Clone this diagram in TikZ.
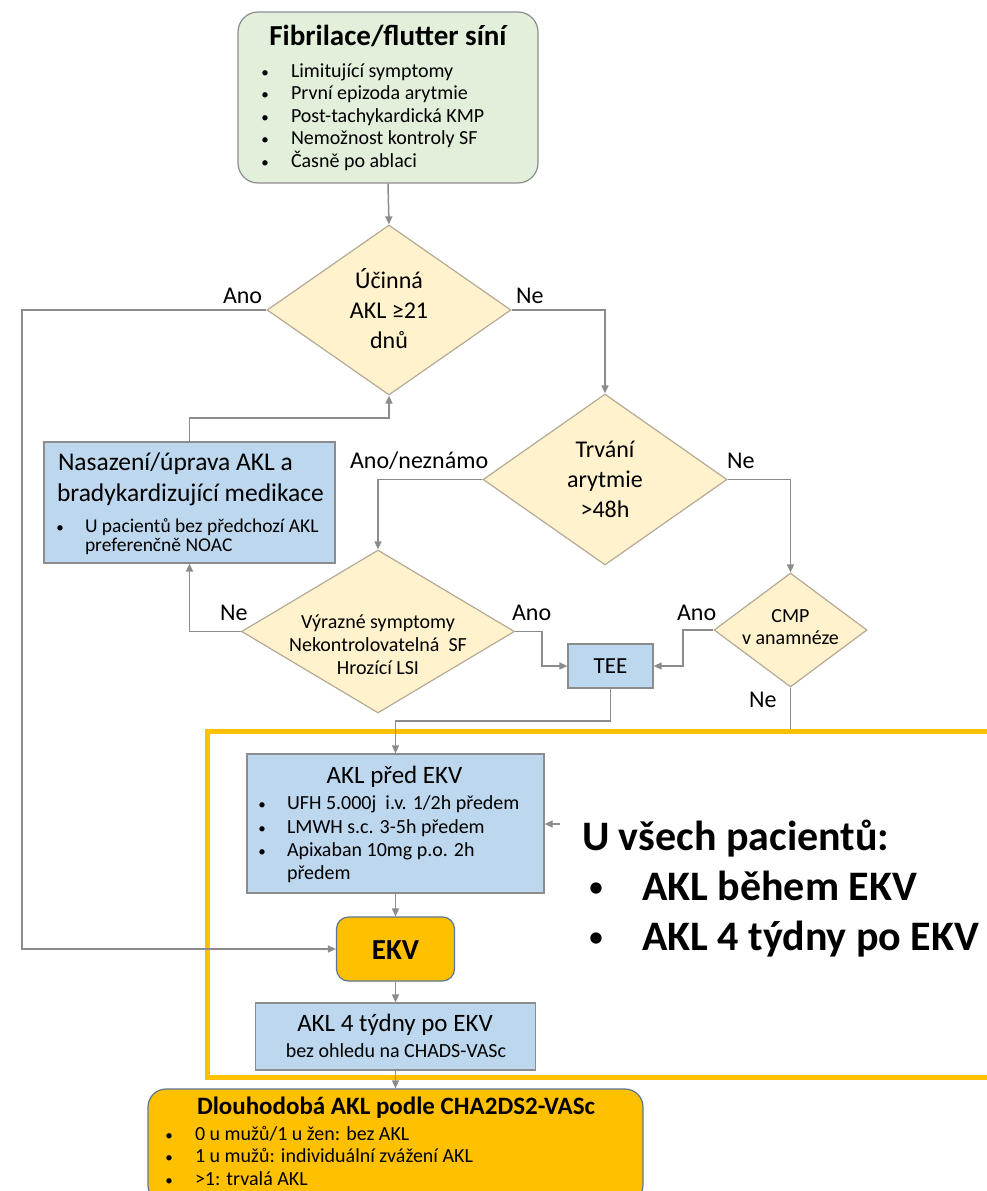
\documentclass[tikz,border=0pt]{standalone}
\usepackage{fontspec}
\setmainfont{Carlito}
\usetikzlibrary{shapes.geometric,arrows.meta}
\definecolor{gfill}{HTML}{E2EFDA}
\definecolor{bfill}{HTML}{BDD7EE}
\definecolor{dfill}{HTML}{FFF2CC}
\definecolor{ofill}{HTML}{FFC000}
\definecolor{lgray}{HTML}{8C8C8C}
\definecolor{obord}{HTML}{5A7694}
\definecolor{dbord}{HTML}{B4AA96}
\newcommand\myfs[1]{\fontsize{#1}{#1}\selectfont}
\begin{document}
\begin{tikzpicture}[x=1pt,y=-1pt,
  box/.style={draw=lgray, line width=1.2pt, inner sep=0},
  bluebox/.style={box, fill=bfill},
  orbox/.style={draw=obord, line width=1.2pt, fill=ofill, inner sep=0},
  dia/.style={diamond, draw=dbord, fill=dfill, line width=1.2pt, inner sep=0},
  conn/.style={draw=lgray, line width=1.5pt},
  arr/.style={conn, -{Triangle[length=8pt,width=7pt]}},
  t/.style={inner sep=0, outer sep=0, anchor=base},
  tl/.style={inner sep=0, outer sep=0, anchor=base west},
  lab/.style={tl, font=\myfs{24}},
  dot/.style={t, font=\myfs{15}},
  frame/.style={draw=ofill, line width=5pt},
]
\useasboundingbox (0,0) rectangle (987,1191);

% yellow frame
\coordinate (fTR) at (987,731);
\coordinate (fTL) at (207,731);
\coordinate (fBL) at (207,1077);
\coordinate (fBR) at (987,1077);
\draw[frame] (fTR) -- (fTL) -- (fBL) -- (fBR);

% nodes
\node[box, fill=gfill, rounded corners=20pt, minimum width=300pt, minimum height=171pt] (start) at (388,97.5) {};
\node[dia, minimum width=244pt, minimum height=170pt] (d1) at (389,310) {};
\node[dia, minimum width=244pt, minimum height=171pt] (d2) at (605,479.5) {};
\node[dia, minimum width=273pt, minimum height=163pt] (d3) at (378,631.5) {};
\node[dia, minimum width=153pt, minimum height=114pt] (cmp) at (790.5,630) {};
\node[bluebox, minimum width=291pt, minimum height=121pt] (b1) at (189.5,502.5) {};
\node[bluebox, minimum width=85pt, minimum height=44pt] (tee) at (610.5,666) {};
\node[bluebox, minimum width=297pt, minimum height=139pt] (akl) at (395.5,823.5) {};
\node[orbox, rounded corners=12pt, minimum width=118pt, minimum height=64pt] (ekv) at (395.5,949) {};
\node[bluebox, minimum width=280pt, minimum height=67pt] (b3) at (395.5,1036.5) {};
\node[orbox, rounded corners=18pt, minimum width=495pt, minimum height=114pt] (fin) at (395.5,1146) {};

% helper coordinates
\coordinate (leftrail) at (22,0);
\coordinate (j1) at (0,418);
\coordinate (r1) at (542,0);
\coordinate (r2) at (683,0);
\coordinate (j2) at (0,721);
\coordinate (cmpend) at (790.5,729);
\coordinate (stub) at (560,824);

% connectors
\draw[arr] (start.south) -- (d1.north);
\draw[arr] (d1.west) -- (d1.west -| leftrail) |- (ekv.west);
\draw[arr] (d1.east) -| (d2.north);
\draw[arr] (d2.west) -| (d3.north);
\draw[arr] (d2.east) -| (cmp.north);
\draw[arr] (d3.west) -| (b1.south);
\draw[arr] (b1.north) -- (b1.north |- j1) -| (d1.south);
\draw[arr] (d3.east) -- (d3.east -| r1) |- (tee.west);
\draw[arr] (cmp.west) -- (cmp.west -| r2) |- (tee.east);
\draw[conn] (cmp.south) -- (cmpend);
\draw[arr] (tee.south) -- (tee.south |- j2) -| (akl.north);
\draw[arr] (stub) -- (akl.east |- stub);
\draw[arr] (akl.south) -- (ekv.north);
\draw[arr] (ekv.south) -- (b3.north);
\draw[arr] (b3.south) -- (fin.north);

% labels
\node[lab] (l1) at (223,303) {Ano};
\node[lab] (l2) at (516,303) {Ne};
\node[lab] (l3) at (350,468) {Ano/neznámo};
\node[lab] (l4) at (727,468) {Ne};
\node[lab] (l5) at (220,620) {Ne};
\node[lab] (l6) at (512,620) {Ano};
\node[lab] (l7) at (677,620) {Ano};
\node[lab] (l8) at (749,707) {Ne};

% start box text
\node[t, font=\myfs{29}\bfseries] (st0) at (388,45) {Fibrilace/flutter síní};
\foreach \yy/\tx [count=\i] in {77/{Limitující symptomy}, 99.5/{První epizoda arytmie}, 122/{Post-tachykardická KMP}, 144.5/{Nemožnost kontroly SF}, 167/{Časně po ablaci}}{
  \node[dot] (sb\i) at (265,\yy) {•};
  \node[tl, font=\myfs{20}] (st\i) at (291,\yy) {\tx};
}

% diamond texts
\node[t, font=\myfs{24}] (d1a) at (389,288) {Účinná};
\node[t, font=\myfs{24}] (d1b) at (389,318.5) {AKL ≥21};
\node[t, font=\myfs{24}] (d1c) at (389,348) {dnů};
\node[t, font=\myfs{24}] (d2a) at (605,457) {Trvání};
\node[t, font=\myfs{24}] (d2b) at (605,487) {arytmie};
\node[t, font=\myfs{24}] (d2c) at (605,517) {>48h};
\node[t, font=\myfs{20}] (d3a) at (378,628) {Výrazné symptomy};
\node[t, font=\myfs{20}] (d3b) at (378,651) {Nekontrolovatelná\ \ SF};
\node[t, font=\myfs{20}] (d3c) at (378,674) {Hrozící LSI};
\node[t, font=\myfs{20}] (ca) at (790.5,622) {CMP};
\node[t, font=\myfs{20}] (cb) at (790.5,644) {v anamnéze};

% blue box 1
\node[tl, font=\myfs{25.5}] (b1a) at (58,470.5) {Nasazení/úprava AKL a};
\node[tl, font=\myfs{25.5}] (b1b) at (57,501) {bradykardizující medikace};
\node[dot] (b1d) at (60,532) {•};
\node[tl, font=\myfs{19.5}] (b1c) at (85,532) {U pacientů bez předchozí AKL};
\node[tl, font=\myfs{19.5}] (b1e) at (85,551) {preferenčně NOAC};

% TEE
\node[t, font=\myfs{23}] (teet) at (610.5,673) {TEE};

% AKL pred EKV
\node[t, font=\myfs{25}] (ak0) at (394.5,783) {AKL před EKV};
\node[dot] (akd1) at (262,809) {•};
\node[dot] (akd2) at (262,833) {•};
\node[dot] (akd3) at (262,856) {•};
\node[tl, font=\myfs{20}] (ak1) at (287,809) {UFH 5.000j\ \ i.v. 1/2h předem};
\node[tl, font=\myfs{20}] (ak2) at (287,833) {LMWH s.c. 3-5h předem};
\node[tl, font=\myfs{20}] (ak3) at (287,856) {Apixaban 10mg p.o. 2h};
\node[tl, font=\myfs{20}] (ak4) at (287,879) {předem};

% EKV
\node[t, font=\myfs{29}\bfseries] (ekvt) at (395.5,959) {EKV};

% box 3
\node[t, font=\myfs{25}] (b3a) at (395,1031) {AKL 4 týdny po EKV};
\node[t, font=\myfs{20}] (b3b) at (396,1057) {bez ohledu na CHADS-VASc};

% final box
\node[t, font=\myfs{25}\bfseries] (f0) at (396,1114) {Dlouhodobá AKL podle CHA2DS2-VASc};
\foreach \yy/\tx [count=\i] in {1140/{0 u mužů/1 u žen: bez AKL}, 1162.5/{1 u mužů: individuální zvážení AKL}, 1185/{>1: trvalá AKL}}{
  \node[dot] (fb\i) at (169,\yy) {•};
  \node[tl, font=\myfs{20}] (ft\i) at (195,\yy) {\tx};
}

% right text
\node[tl, font=\myfs{42}\bfseries] (r0) at (582,850) {U všech pacientů:};
\node[t, font=\myfs{32}] (rd1) at (596,897) {•};
\node[t, font=\myfs{32}] (rd2) at (596,947) {•};
\node[tl, font=\myfs{42}\bfseries] (r1t) at (642,900) {AKL během EKV};
\node[tl, font=\myfs{42}\bfseries] (r2t) at (642,950) {AKL 4 týdny po EKV};
\end{tikzpicture}
\end{document}
